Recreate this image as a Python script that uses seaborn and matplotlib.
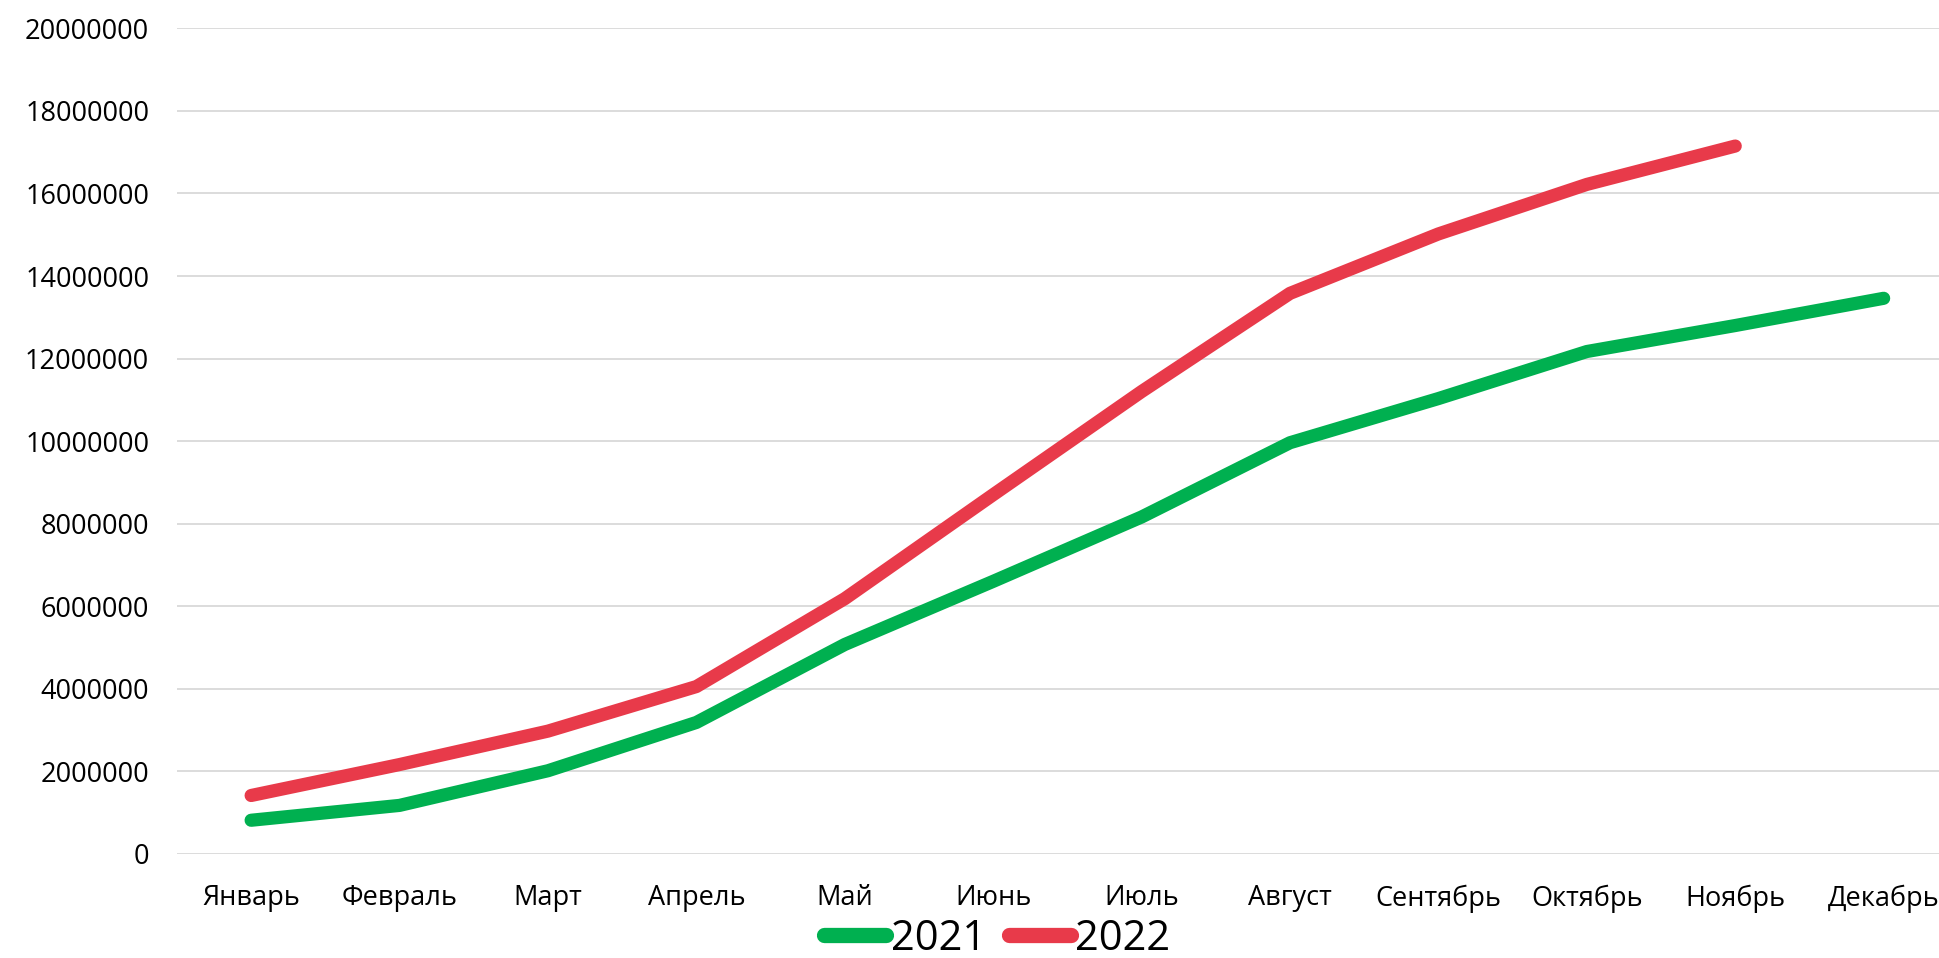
import pandas as pd
import seaborn as sns
import matplotlib.pyplot as plt
from matplotlib.lines import Line2D

months = ["Январь", "Февраль", "Март", "Апрель", "Май", "Июнь",
          "Июль", "Август", "Сентябрь", "Октябрь", "Ноябрь", "Декабрь"]
vals_2021 = [810000, 1170000, 2010000, 3180000, 5070000, 6600000,
             8160000, 9960000, 11030000, 12170000, 12800000, 13460000]
vals_2022 = [1410000, 2160000, 2970000, 4050000, 6180000, 8700000,
             11200000, 13580000, 15020000, 16220000, 17150000]
years = ["2021", "2022"]
colors = {"2021": "#00B050", "2022": "#E83A4A"}
yticks = list(range(0, 20000001, 2000000))

rows = []
for m, v in zip(months, vals_2021):
    rows.append({"month": m, "value": v, "year": "2021"})
for m, v in zip(months, vals_2022):
    rows.append({"month": m, "value": v, "year": "2022"})
df = pd.DataFrame(rows)

sns.set_style("white")
plt.rcParams['font.family'] = ['Open Sans', 'DejaVu Sans']
plt.rcParams['text.color'] = 'black'
plt.rcParams['xtick.color'] = 'black'
plt.rcParams['ytick.color'] = 'black'

fig = plt.figure(figsize=(19.4, 9.58), dpi=100)
ax = fig.add_axes([0.0912, 0.1089, 0.918, 0.8614])

sns.lineplot(data=df, x="month", y="value", hue="year", palette=colors,
             linewidth=9.5, solid_capstyle="round", solid_joinstyle="round",
             sort=False, legend=False, ax=ax)

ax.set_xlim(-0.5, 11.5)
ax.set_ylim(0, 20000000)
ax.set_yticks(yticks)
ax.set_yticklabels([str(t) for t in yticks])
ax.grid(axis="y", color="#D9D9D9", linewidth=1.3)
ax.set_axisbelow(True)
for s in ax.spines.values():
    s.set_visible(False)
ax.tick_params(axis="both", length=0, labelsize=19.5, labelcolor="black")
ax.tick_params(axis="y", pad=20)
ax.tick_params(axis="x", pad=22)
ax.set_xlabel("")
ax.set_ylabel("")

handles = [Line2D([0], [0], color=colors[y], linewidth=11, solid_capstyle="round")
           for y in years]
fig.legend(handles, years, loc="center", bbox_to_anchor=(0.514, 0.02),
           ncol=2, frameon=False, fontsize=30, handlelength=1.5,
           handletextpad=0.1, columnspacing=0.55, borderpad=0)

fig.savefig("out.png", dpi=100)
